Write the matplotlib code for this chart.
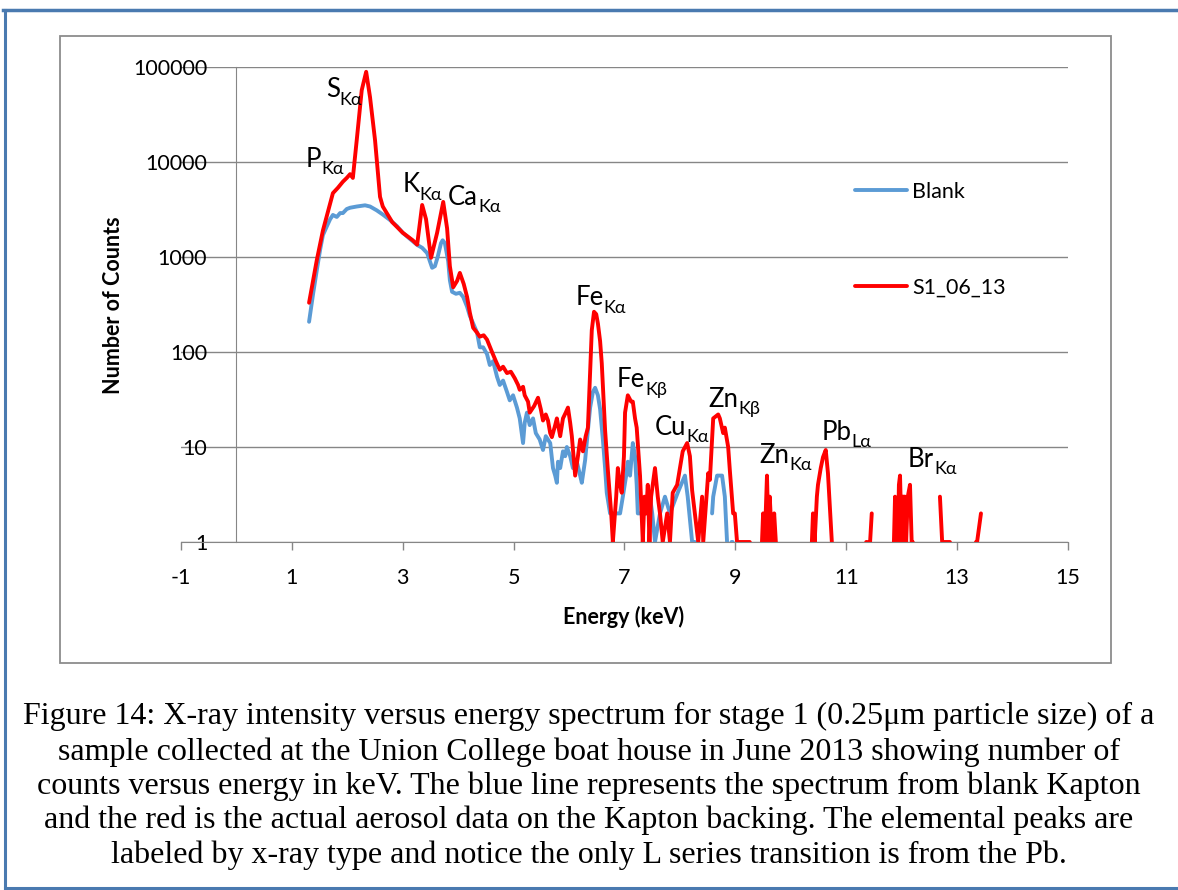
import numpy as np
import matplotlib
matplotlib.use('Agg')
import matplotlib.pyplot as plt
from matplotlib.ticker import FixedLocator, NullLocator
from matplotlib.patches import Rectangle
from matplotlib.lines import Line2D

nan = np.nan

# spectrum of the aerosol sample (S1_06_13), keV / counts, nan = no counts
red_energy = [1.31, 1.45, 1.56, 1.74, 1.83, 1.92, 1.99, 2.05, 2.10, 2.17,
              2.26, 2.34, 2.41, 2.50, 2.59, 2.64, 2.81, 3.00, 3.18, 3.26,
              3.35, 3.42, 3.51, 3.62, 3.73, 3.80, 3.85, 3.91, 3.98, 4.03,
              4.10, 4.16, 4.21, 4.27, 4.34, 4.39, 4.46, 4.52, 4.61, 4.68,
              4.75, 4.81, 4.88, 4.95, 5.02, 5.08, 5.11, 5.17, 5.20, 5.26,
              5.29, 5.37, 5.44, 5.49, 5.53, 5.58, 5.62, 5.66, 5.69, 5.75,
              5.78, 5.84, 5.89, 5.94, 5.98, 6.02, 6.05, 6.11, 6.16, 6.20,
              6.25, 6.30, 6.34, 6.38, 6.41, 6.45, 6.49, 6.52, 6.56, 6.59,
              6.65, 6.70, 6.76, 6.79, 6.85, 6.88, 6.92, 6.95, 6.99, 7.01,
              7.06, 7.12, 7.15, 7.19, 7.22, 7.28, 7.33, 7.36, 7.39, 7.42,
              7.45, 7.48, 7.55, 7.60, 7.64, 7.69, 7.77, 7.82, 7.87, 7.95,
              8.00, 8.05, 8.13, 8.18, 8.22, 8.27, 8.33, 8.40, 8.42, 8.51,
              8.54, 8.60, 8.69, 8.72, 8.78, 8.81, 8.87, 8.90, 8.96, 8.99,
              9.03, 9.26, 9.37, 9.48, 9.50, 9.53, 9.57, 9.60, 9.62, 9.66,
              9.70, 9.73, 10.0, 10.38, 10.40, 10.43, 10.47, 10.49, 10.54, 10.58,
              10.63, 10.67, 10.71, 10.74, 11.0, 11.36, 11.38, 11.40, 11.43, 11.46,
              11.6, 11.86, 11.88, 11.93, 11.95, 11.97, 12.00, 12.02, 12.06, 12.08,
              12.11, 12.15, 12.18, 12.20, 12.4, 12.69, 12.73, 12.87, 13.1, 13.34,
              13.36, 13.43]
red_counts = [330, 930, 1900, 4700, 5350, 6200, 6800, 7450, 6800, 17000,
              57000, 89000, 48000, 17000, 4300, 3400, 2330, 1800, 1500, 1350,
              3530, 2500, 980, 1800, 3800, 2000, 800, 480, 560, 680,
              520, 380, 260, 180, 160, 145, 150, 135, 100, 80,
              65, 70, 60, 62, 53, 45, 40, 43, 35, 30,
              23, 27, 33, 25, 19, 22, 19, 14, 12.7, 17,
              20, 13, 20, 23, 26, 18, 13, 5, 8, 12,
              9, 13, 16, 60, 170, 265, 250, 200, 130, 76,
              15, 5.7, 2, 1, 3, 6, 4, 3.3, 8, 23,
              35, 30, 30, 20, 16, 5, 1, 3, 2, 4,
              1, 3, 6, 3, 2, 1, 2, 1, 3.3, 4,
              6, 9, 11, 8, 3.5, 2, 1, 3, 1, 5.3,
              4.5, 20, 22, 20, 14, 16, 10, 5.7, 2, 2,
              1, 1, nan, 1, 2, 1, 5, 1, 3, 1,
              2, 1, nan, 1, 2, 1, 3, 4, 6, 7.8,
              9.3, 5.3, 2, 1, nan, 1, 1, nan, 1, 2,
              nan, 1, 3, 1, 4, 5, 1, 3, 3, 1,
              3, 4, 1, 1, nan, 3, 1, 1, nan, 1,
              1, 2]

# spectrum of the blank Kapton
blue_energy = [1.31, 1.38, 1.45, 1.51, 1.56, 1.63, 1.69, 1.74, 1.81, 1.87,
               1.92, 1.99, 2.05, 2.17, 2.32, 2.41, 2.53, 2.64, 2.77, 2.90,
               3.00, 3.13, 3.26, 3.35, 3.44, 3.49, 3.53, 3.58, 3.63, 3.69,
               3.72, 3.76, 3.82, 3.85, 3.89, 3.96, 4.03, 4.09, 4.16, 4.21,
               4.27, 4.34, 4.39, 4.45, 4.52, 4.57, 4.63, 4.70, 4.75, 4.81,
               4.88, 4.93, 4.99, 5.06, 5.11, 5.17, 5.20, 5.24, 5.29, 5.35,
               5.40, 5.47, 5.53, 5.58, 5.66, 5.71, 5.75, 5.78, 5.80, 5.84,
               5.89, 5.93, 5.96, 6.02, 6.07, 6.14, 6.20, 6.23, 6.29, 6.34,
               6.38, 6.43, 6.47, 6.52, 6.56, 6.61, 6.65, 6.68, 6.74, 6.79,
               6.86, 6.92, 6.97, 7.03, 7.06, 7.10, 7.15, 7.19, 7.22, 7.24,
               7.30, 7.33, 7.39, 7.46, 7.50, 7.55, 7.64, 7.73, 7.82, 7.96,
               8.09, 8.14, 8.22, 8.27, 8.4, 8.58, 8.60, 8.67, 8.76, 8.81,
               8.85, 8.9, 8.93, 8.95]
blue_counts = [208, 400, 730, 1200, 1700, 2100, 2500, 2770, 2640, 2900,
               2900, 3200, 3300, 3400, 3500, 3400, 3100, 2800, 2450, 2100,
               1800, 1550, 1340, 1250, 1100, 900, 770, 800, 1000, 1400,
               1500, 1400, 900, 570, 430, 410, 420, 380, 300, 240,
               200, 160, 112, 112, 95, 73, 80, 55, 45, 50,
               38, 31, 35, 26, 20, 11, 18, 23, 17, 20,
               14, 12, 9.3, 13, 11, 6, 5, 4.2, 7, 6,
               9, 8, 10, 8, 6, 7, 5, 4.2, 7.3, 15,
               26, 38, 42, 35, 25, 12, 6, 3.3, 2, 2,
               2, 2, 3, 5, 7, 5, 11, 8, 4, 2,
               2, 2, 2, 3, 2, 1, 2, 3, 2, 3.3,
               5, 3, 1, 1, nan, 2, 3, 5, 5, 3,
               1, nan, 1, 1]

x_ticks = [-1, 1, 3, 5, 7, 9, 11, 13, 15]
y_ticks = [1, 10, 100, 1000, 10000, 100000]
y_tick_labels = ['1', '10', '100', '1000', '10000', '100000']

# peak labels: element, line, position (keV, counts at baseline)
peak_names = ['S', 'P', 'K', 'Ca', 'Fe', 'Fe', 'Cu', 'Zn', 'Zn', 'Pb', 'Br']
peak_lines = ['Kα', 'Kα', 'Kα', 'Kα', 'Kα', 'Kβ', 'Kα', 'Kβ', 'Kα', 'Lα', 'Kα']
peak_x = [1.61, 1.25, 3.00, 3.82, 6.11, 6.86, 7.55, 8.52, 9.44, 10.56, 12.11]
peak_y = [48300, 8860, 4830, 3530, 312, 42.8, 13.4, 26.4, 6.8, 11.9, 6.2]

caption = ["Figure 14: X-ray intensity versus energy spectrum for stage 1 (0.25μm particle size) of a",
           "sample collected at the Union College boat house in June 2013 showing number of",
           "counts versus energy in keV. The blue line represents the spectrum from blank Kapton",
           "and the red is the actual aerosol data on the Kapton backing. The elemental peaks are",
           "labeled by x-ray type and notice the only L series transition is from the Pb."]

W, H = 1178, 890
plt.rcParams['font.family'] = ['Lato', 'DejaVu Sans']
fig = plt.figure(figsize=(W / 100, H / 100), dpi=100)
ax = fig.add_axes([181 / W, 1 - 542 / H, (1068 - 181) / W, (542 - 67) / H])

grey = '#868686'
ax.plot(blue_energy, blue_counts, color='#5b9bd5', lw=2.8, label='Blank',
        solid_joinstyle='round', solid_capstyle='round')
ax.plot(red_energy, red_counts, color='#ff0000', lw=2.8, label='S1_06_13',
        solid_joinstyle='round', solid_capstyle='round')

ax.set_yscale('log')
ax.set_xlim(-1, 15)
ax.set_ylim(1, 100000)
ax.xaxis.set_major_locator(FixedLocator(x_ticks))
ax.set_xticklabels([str(t) for t in x_ticks])
ax.yaxis.set_major_locator(FixedLocator(y_ticks))
ax.yaxis.set_minor_locator(NullLocator())
ax.set_yticklabels(y_tick_labels)
ax.yaxis.grid(True, color=grey, lw=1.0)
ax.set_axisbelow(True)

for s in ['top', 'right']:
    ax.spines[s].set_visible(False)
ax.spines['left'].set_position(('data', 0))
ax.spines['left'].set_color(grey)
ax.spines['bottom'].set_color(grey)
ax.tick_params(axis='x', direction='out', length=6, width=1, color=grey,
               labelsize=15.5, pad=13)
ax.tick_params(axis='y', direction='out', length=0, width=1, color=grey,
               labelsize=15.5, pad=21)

for name, line, x, y in zip(peak_names, peak_lines, peak_x, peak_y):
    t = ax.text(x, y, name, fontsize=18.5, ha='left', va='baseline')
    ax.annotate(line, xy=(1.0, 0.1), xycoords=t, fontsize=13,
                ha='left', va='center')

fig.text(113 / W, 1 - 305 / H, 'Number of Counts', rotation=90,
         fontsize=15.5, fontweight='bold', ha='center', va='center')
fig.text(624 / W, 1 - 617 / H, 'Energy (keV)', fontsize=15.5,
         fontweight='bold', ha='center', va='center')

ax.legend(loc='upper left', bbox_to_anchor=(855 / W, 1 - 182 / H),
          bbox_transform=fig.transFigure, frameon=False, borderpad=0,
          borderaxespad=0, handlelength=2.4, handletextpad=0.25,
          labelspacing=3.5, fontsize=15.5)

# chart box and page frame
fig.add_artist(Rectangle((60 / W, 1 - 663 / H), (1111 - 60) / W, (663 - 36) / H,
                         transform=fig.transFigure, fill=False,
                         edgecolor='#8c8c8c', lw=1.3))
frame = '#4a7ab0'
fig.add_artist(Line2D([3 / W, 1], [1 - 10 / H, 1 - 10 / H], color=frame, lw=2.5,
                      transform=fig.transFigure))
fig.add_artist(Line2D([5 / W, 5 / W], [1 - 10 / H, 1 - 888 / H], color=frame, lw=2.2,
                      transform=fig.transFigure))
fig.add_artist(Line2D([5 / W, 1], [1 - 888 / H, 1 - 888 / H], color=frame, lw=2.2,
                      transform=fig.transFigure))

line_y = [716, 752, 786, 820, 855]
for txt, yy in zip(caption, line_y):
    fig.text(589 / W, 1 - yy / H, txt, fontsize=23, family='Liberation Serif',
             ha='center', va='center')

fig.savefig('out.png', dpi=100)
